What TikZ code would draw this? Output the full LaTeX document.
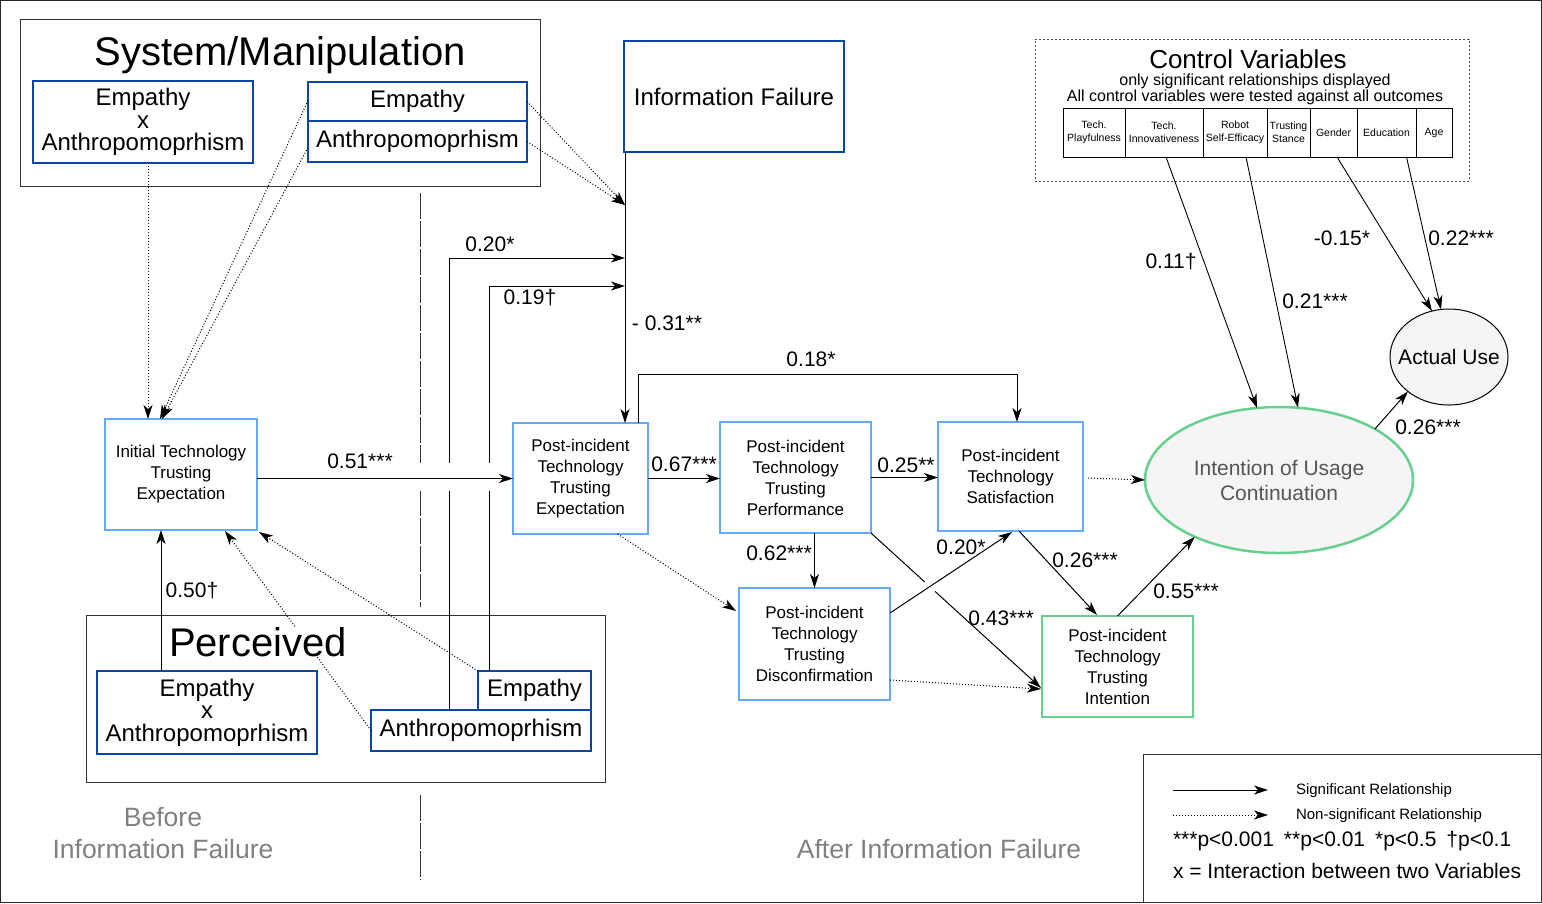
\documentclass[tikz,border=0pt]{standalone}
\usepackage{fontspec}
\setmainfont{Liberation Sans}
\usetikzlibrary{arrows.meta,calc,shapes.geometric}
\definecolor{dblue}{RGB}{10,70,170}
\definecolor{lblue}{RGB}{102,170,255}
\definecolor{lgreen}{RGB}{103,208,143}
\definecolor{ellfill}{RGB}{245,245,245}
\definecolor{captgray}{RGB}{128,128,128}
\definecolor{ellgray}{RGB}{85,85,85}
\begin{document}
\begin{tikzpicture}[x=1pt,y=-1pt,
  >={Stealth[length=14pt,width=9pt,inset=4pt]},
  every node/.style={inner sep=0pt,outer sep=0pt},
  container/.style={draw=black!80,line width=1pt,fill=white},
  dbox/.style={draw=dblue,line width=2.2pt,fill=white,align=center,font=\fontsize{24}{22.5}\selectfont},
  lbox/.style={draw=lblue,line width=2.5pt,fill=white,align=center,font=\fontsize{17}{21}\selectfont},
  gbox/.style={draw=lgreen,line width=2.5pt,fill=white,align=center,font=\fontsize{17}{21}\selectfont},
  cbox/.style={draw=black,line width=1pt,fill=white,align=center,font=\fontsize{10.5}{13}\selectfont,minimum height=49pt},
  lab/.style={font=\fontsize{21}{24}\selectfont},
  capt/.style={text=captgray,align=center,font=\fontsize{26.5}{32}\selectfont},
  sig/.style={->,line width=1pt},
  nsig/.style={->,line width=1pt,dash pattern=on 1pt off 2pt},
  sepline/.style={line width=1pt,draw=black!80,dash pattern=on 26pt off 2pt}
]
\useasboundingbox (0,0) rectangle (1542,903);
\draw[line width=1pt,draw=black!85] (0.5,0.5) rectangle (1541,902);

% separator between before / after
\draw[sepline] (420,193) -- (420,468);
\draw[sepline] (420,490) -- (420,607);
\draw[sepline] (420,795) -- (420,880);

% containers
\node[container,minimum width=520pt,minimum height=167pt] (sys) at (280,102.5) {};
\node[font=\fontsize{40}{40}\selectfont] (systitle) at (280,55) {System/Manipulation};
\node[container,minimum width=519pt,minimum height=167pt] (perc) at (345.5,698.5) {};
\node[draw=black!70,line width=1pt,dash pattern=on 2pt off 2pt,minimum width=434pt,minimum height=142pt] (cv) at (1252,110) {};
\node[font=\fontsize{26}{26}\selectfont] (cvtitle) at (1248,59) {Control Variables};
\node[font=\fontsize{16}{16}\selectfont,align=center] (cvsub) at (1255,89.5) {only significant relationships displayed\\All control variables were tested against all outcomes};

% system boxes
\node[dbox,minimum width=220pt,minimum height=82pt] (sysExA) at (143,122) {Empathy\\x\\Anthropomoprhism};
\node[dbox,minimum width=219pt,minimum height=39pt] (sysE) at (417.5,101.5) {Empathy};
\node[dbox,minimum width=219pt,minimum height=41pt] (sysA) at (417.5,141.5) {Anthropomoprhism};
\node[dbox,minimum width=220pt,minimum height=111pt] (IF) at (734,96.5) {Information Failure};

% perceived boxes
\node[dbox,minimum width=220pt,minimum height=83pt] (pExA) at (207,712.5) {Empathy\\x\\Anthropomoprhism};
\node[dbox,minimum width=113pt,minimum height=39pt] (pE) at (534.5,690.5) {Empathy};
\node[dbox,minimum width=220pt,minimum height=41pt] (pA) at (481,730.5) {Anthropomoprhism};

% model boxes
\node[lbox,minimum width=152pt,minimum height=111pt] (ITTE) at (181,474.5) {Initial Technology\\Trusting\\Expectation};
\node[lbox,minimum width=135pt,minimum height=111pt] (PTTE) at (580.5,478.5) {Post-incident\\Technology\\Trusting\\Expectation};
\node[lbox,minimum width=151pt,minimum height=111pt] (PTTP) at (795.5,477.5) {Post-incident\\Technology\\Trusting\\Performance};
\node[lbox,minimum width=145pt,minimum height=109pt] (PTS) at (1010.5,476.5) {Post-incident\\Technology\\Satisfaction};
\node[lbox,minimum width=151pt,minimum height=112pt] (PTTD) at (814.5,644) {Post-incident\\Technology\\Trusting\\Disconfirmation};
\node[gbox,minimum width=151pt,minimum height=101pt] (PTTI) at (1117.5,666.5) {Post-incident\\Technology\\Trusting\\Intention};
\node[ellipse,draw=lgreen,line width=2.5pt,fill=ellfill,minimum width=268pt,minimum height=146pt,text=ellgray,align=center,font=\fontsize{21}{25}\selectfont] (IUC) at (1279,480) {Intention of Usage\\Continuation};
\node[ellipse,draw=black,line width=1pt,fill=ellfill,inner xsep=-10pt,minimum width=118pt,minimum height=96pt,font=\fontsize{21}{25}\selectfont] (AU) at (1449,357) {Actual Use};

% control variable boxes
\node[cbox,minimum width=62pt] (c1) at (1094,132.5) {Tech.\\Playfulness};
\node[cbox,minimum width=78pt] (c2) at (1164,132.5) {Tech.\\Innovativeness};
\node[cbox,minimum width=64pt] (c3) at (1235,132.5) {Robot\\Self-Efficacy};
\node[cbox,minimum width=43pt] (c4) at (1288.5,132.5) {Trusting\\Stance};
\node[cbox,minimum width=47pt] (c5) at (1333.5,132.5) {Gender};
\node[cbox,minimum width=59pt] (c6) at (1386.5,132.5) {Education};
\node[cbox,minimum width=36pt] (c7) at (1434,132.5) {Age};

% junction points on the information-failure path
\coordinate (ifb) at ($(IF.south west)+(1,0)$);
\coordinate (j1) at (625,205);
\coordinate (j2) at (625,258);
\coordinate (j3) at (625,286);

% information failure -> PTTE
\draw[sig] (ifb) -- (ifb |- PTTE.north);
\node[lab] (l31) at (667,323) {- 0.31**};

% system manipulation dotted arrows
\draw[nsig] ($(sysExA.south)+(5,0)$) -- ($(ITTE.north)+(-33,0)$);
\draw[nsig] ($(sysE.west)+(0,-1)$) -- ($(ITTE.north)+(-21,0)$);
\draw[nsig] ($(sysA.west)+(0,6)$) -- ($(ITTE.north)+(-19,0)$);
\draw[nsig] (sysE.east) -- (j1);
\draw[nsig] (sysA.east) -- (j1);

% perceived -> moderation
\coordinate (pAup) at ($(pA.north west)+(78,0)$);
\coordinate (pEup) at ($(pE.north west)+(11,0)$);
\draw[sig] (pAup) |- (j2);
\draw[sig] (pEup) |- (j3);
\node[lab] (l20a) at (490,244) {0.20*};
\node[lab] (l19) at (530,298) {0.19†};

% gap where verticals cross the 0.51 path
\fill[white] (410,463) rectangle (500,491);
\draw[sig] (PTTE.west -| ITTE.east) -- (PTTE.west);
\node[lab] (l51) at (360,461) {0.51***};

% perceived -> ITTE
\coordinate (a50) at ($(ITTE.south)+(-20,0)$);
\draw[sig] (a50 |- pExA.north) -- (a50);
\node[lab] (l50) at (192,591) {0.50†};
\draw[nsig] (pA.west) -- ($(ITTE.south)+(44,1)$);
\draw[nsig] (pE.north west) -- ($(ITTE.south east)+(2,2)$);

% main chain
\draw[sig] (PTTE.east) -- (PTTE.east -| PTTP.west);
\node[lab] (l67) at (684,464) {0.67***};
\draw[sig] (PTTP.east) -- (PTTP.east -| PTS.west);
\node[lab] (l25) at (906,465) {0.25**};
\coordinate (p18) at ($(PTTE.north east)+(-10,0)$);
\coordinate (t18) at ($(PTS.north)+(6.5,0)$);
\draw[sig] (p18) -- ++(0,-49) -| (t18);
\node[lab] (l18) at (811,359) {0.18*};
\draw[sig] (PTTD.north |- PTTP.south) -- (PTTD.north);
\node[lab] (l62) at (779,553) {0.62***};
\draw[nsig] ($(PTTE.south)+(37,0)$) -- ($(PTTD.north west)+(-3,23)$);

\draw[sig] (PTTP.south east) -- ($(PTTI.south west)+(-1,-29)$);
\fill[white] (930,586.5) circle (7);
\draw[sig] ($(PTTD.north east)+(0,25)$) -- ($(PTS.south)+(1.5,1)$);
\node[lab] (l20b) at (961,547) {0.20*};
\node[lab] (l43) at (1001,618) {0.43***};
\draw[nsig] ($(PTTD.south east)+(0,-20)$) -- ($(PTTI.south west)+(-1,-28)$);
\draw[sig] ($(PTS.south)+(8.5,0)$) -- ($(PTTI.north)+(-20.5,-1)$);
\node[lab] (l26a) at (1085,560) {0.26***};
\draw[sig] (PTTI.north) -- (IUC.214);
\node[lab] (l55) at (1186,591) {0.55***};
\draw[nsig] ($(PTS.east)+(5,1.5)$) -- (IUC.west);
\draw[sig] (IUC.28) -- (AU.220);
\node[lab] (l26b) at (1428,427) {0.26***};

% control variable effects
\draw[sig,line width=0.9pt] ($(c2.south)+(2,0)$) -- ($(IUC.north)+(-22,1)$);
\node[lab] (l11) at (1171,262) {0.11†};
\draw[sig,line width=0.9pt] ($(c3.south)+(11,0)$) -- ($(IUC.north)+(19,0.5)$);
\node[lab] (l21) at (1315,301) {0.21***};
\draw[sig,line width=0.9pt] ($(c5.south)+(3.5,0)$) -- ($(AU.north)+(-17,2)$);
\node[lab] (l15) at (1342,238) {-0.15*};
\draw[sig,line width=0.9pt] ($(c6.south)+(20,0)$) -- ($(AU.north)+(-8,0.5)$);
\node[lab] (l22) at (1461,238) {0.22***};

% perceived title on top (hides dotted line behind text)
\node[font=\fontsize{40}{40}\selectfont,fill=white] (ptitle) at (258,642) {Perceived};

% captions
\node[capt] (before) at (163,833) {Before\\Information Failure};
\node[capt] (after) at (939,849) {After Information Failure};

% legend
\node[draw=black!80,line width=1pt,minimum width=398pt,minimum height=148pt] (leg) at (1342,828) {};
\coordinate (lg1a) at (1173,790);
\coordinate (lg1b) at (1268,790);
\coordinate (lg2a) at (1173,815);
\coordinate (lg2b) at (1268,815);
\draw[sig] (lg1a) -- (lg1b);
\draw[nsig] (lg2a) -- (lg2b);
\node[anchor=west,font=\fontsize{15}{15}\selectfont] (lgt1) at (1296,791) {Significant Relationship};
\node[anchor=west,font=\fontsize{15}{15}\selectfont] (lgt2) at (1296,816) {Non-significant Relationship};
\node[anchor=west,lab] (lgt3) at (1173,841) {***p<0.001\hspace{10pt}**p<0.01\hspace{10pt}*p<0.5\hspace{10pt}†p<0.1};
\node[anchor=west,lab] (lgt4) at (1173,871) {x = Interaction between two Variables};
\end{tikzpicture}
\end{document}
